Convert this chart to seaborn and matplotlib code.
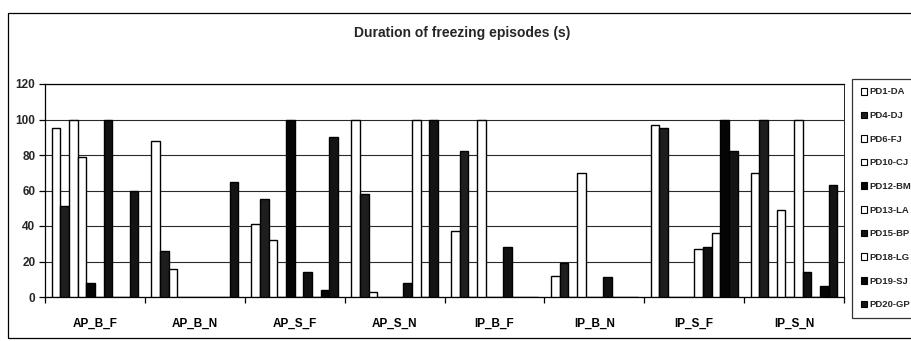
import matplotlib
matplotlib.use("Agg")
import matplotlib.pyplot as plt
from matplotlib.patches import Patch, Rectangle
from matplotlib.ticker import FixedLocator, MultipleLocator
import seaborn as sns
import pandas as pd

# Conditions on the x axis
groups = ["AP_B_F", "AP_B_N", "AP_S_F", "AP_S_N", "IP_B_F", "IP_B_N", "IP_S_F", "IP_S_N"]

# Patients (hue order)
patients = ["PD1-DA", "PD4-DJ", "PD6-FJ", "PD10-CJ", "PD12-BM",
            "PD13-LA", "PD15-BP", "PD18-LG", "PD19-SJ", "PD20-GP"]

# Duration of freezing episodes (s), one list per patient, in group order
pd1_da = [95, 88, 41, 100, 37, 12, 97, 70]
pd4_dj = [51, 26, 55, 58, 82, 19, 95, 100]
pd6_fj = [100, 16, 32, 3, 0, 0, 0, 0]
pd10_cj = [79, 0, 0, 0, 100, 70, 0, 49]
pd12_bm = [8, 0, 100, 0, 0, 0, 0, 0]
pd13_la = [0, 0, 0, 0, 0, 0, 27, 100]
pd15_bp = [100, 0, 14, 8, 28, 11, 28, 14]
pd18_lg = [0, 0, 0, 100, 0, 0, 36, 0]
pd19_sj = [0, 0, 4, 0, 0, 0, 100, 6]
pd20_gp = [60, 65, 90, 100, 0, 0, 82, 63]

series = [pd1_da, pd4_dj, pd6_fj, pd10_cj, pd12_bm,
          pd13_la, pd15_bp, pd18_lg, pd19_sj, pd20_gp]

colors = ["#ffffff", "#1e1e1e", "#ffffff", "#ffffff", "#050505",
          "#ffffff", "#111111", "#ffffff", "#050505", "#141414"]

rows = []
for name, vals in zip(patients, series):
    for g, v in zip(groups, vals):
        rows.append({"group": g, "patient": name, "duration": v})
df = pd.DataFrame(rows)

sns.set_style("white")
narrow = ["Liberation Sans Narrow", "Liberation Sans", "DejaVu Sans"]
plt.rcParams["font.family"] = narrow

W, H = 911, 341
fig = plt.figure(figsize=(W / 100, H / 100), dpi=100)
ax = fig.add_axes([45 / W, 1 - 297 / H, (844 - 45) / W, (297 - 84) / H])

sns.barplot(data=df, x="group", y="duration", hue="patient",
            order=groups, hue_order=patients, palette=colors,
            width=10 / 11.5, gap=0, edgecolor="black", linewidth=1.0,
            legend=False, ax=ax, zorder=3)

ax.set_ylim(0, 120)
ax.set_xlim(-0.5, len(groups) - 0.5)
ax.yaxis.set_major_locator(MultipleLocator(20))
ax.grid(axis="y", color="#2a2a2a", linewidth=0.8, zorder=0)
ax.set_axisbelow(True)

for side in ["left", "bottom", "right", "top"]:
    ax.spines[side].set_visible(True)
    ax.spines[side].set_color("black")
    ax.spines[side].set_linewidth(0.9)
ax.spines["right"].set_linewidth(0.6)

ax.set_xlabel("")
ax.set_ylabel("")

# group boundaries carry the tick marks, labels sit at group centres
ax.xaxis.set_minor_locator(FixedLocator([i - 0.5 for i in range(len(groups) + 1)]))
ax.tick_params(axis="x", which="major", length=0, pad=15,
               labelsize=8.5, labelcolor="black")
ax.tick_params(axis="x", which="minor", direction="out", length=4,
               width=0.9, color="black", bottom=True)
ax.tick_params(axis="y", direction="out", length=4, width=0.9,
               color="black", left=True, labelsize=8.5, pad=3)
for lab in ax.get_xticklabels() + ax.get_yticklabels():
    lab.set_fontweight("bold")

fig.text(462 / W, 1 - 33 / H, "Duration of freezing episodes (s)",
         ha="center", va="center", fontsize=10, fontweight="bold",
         family=narrow)

handles = [Patch(facecolor=c, edgecolor="black", linewidth=0.8) for c in colors]
leg = ax.legend(handles, patients, loc="upper left",
                bbox_to_anchor=(852 / W, 1 - 79 / H),
                bbox_transform=fig.transFigure,
                frameon=True, fancybox=False, edgecolor="black",
                handlelength=0.7, handleheight=0.7, handletextpad=0.2,
                labelspacing=1.55, borderpad=0.9, borderaxespad=0,
                prop={"family": narrow, "size": 6.8, "weight": "bold"})
leg.get_frame().set_linewidth(0.9)
leg._legend_box.align = "left"

# outer chart frame
fig.patches.append(Rectangle((8 / W, 1 - 338 / H), 1.0, (338 - 13) / H,
                             transform=fig.transFigure, fill=False,
                             edgecolor="black", linewidth=0.9))

fig.savefig("out.png", dpi=100)
